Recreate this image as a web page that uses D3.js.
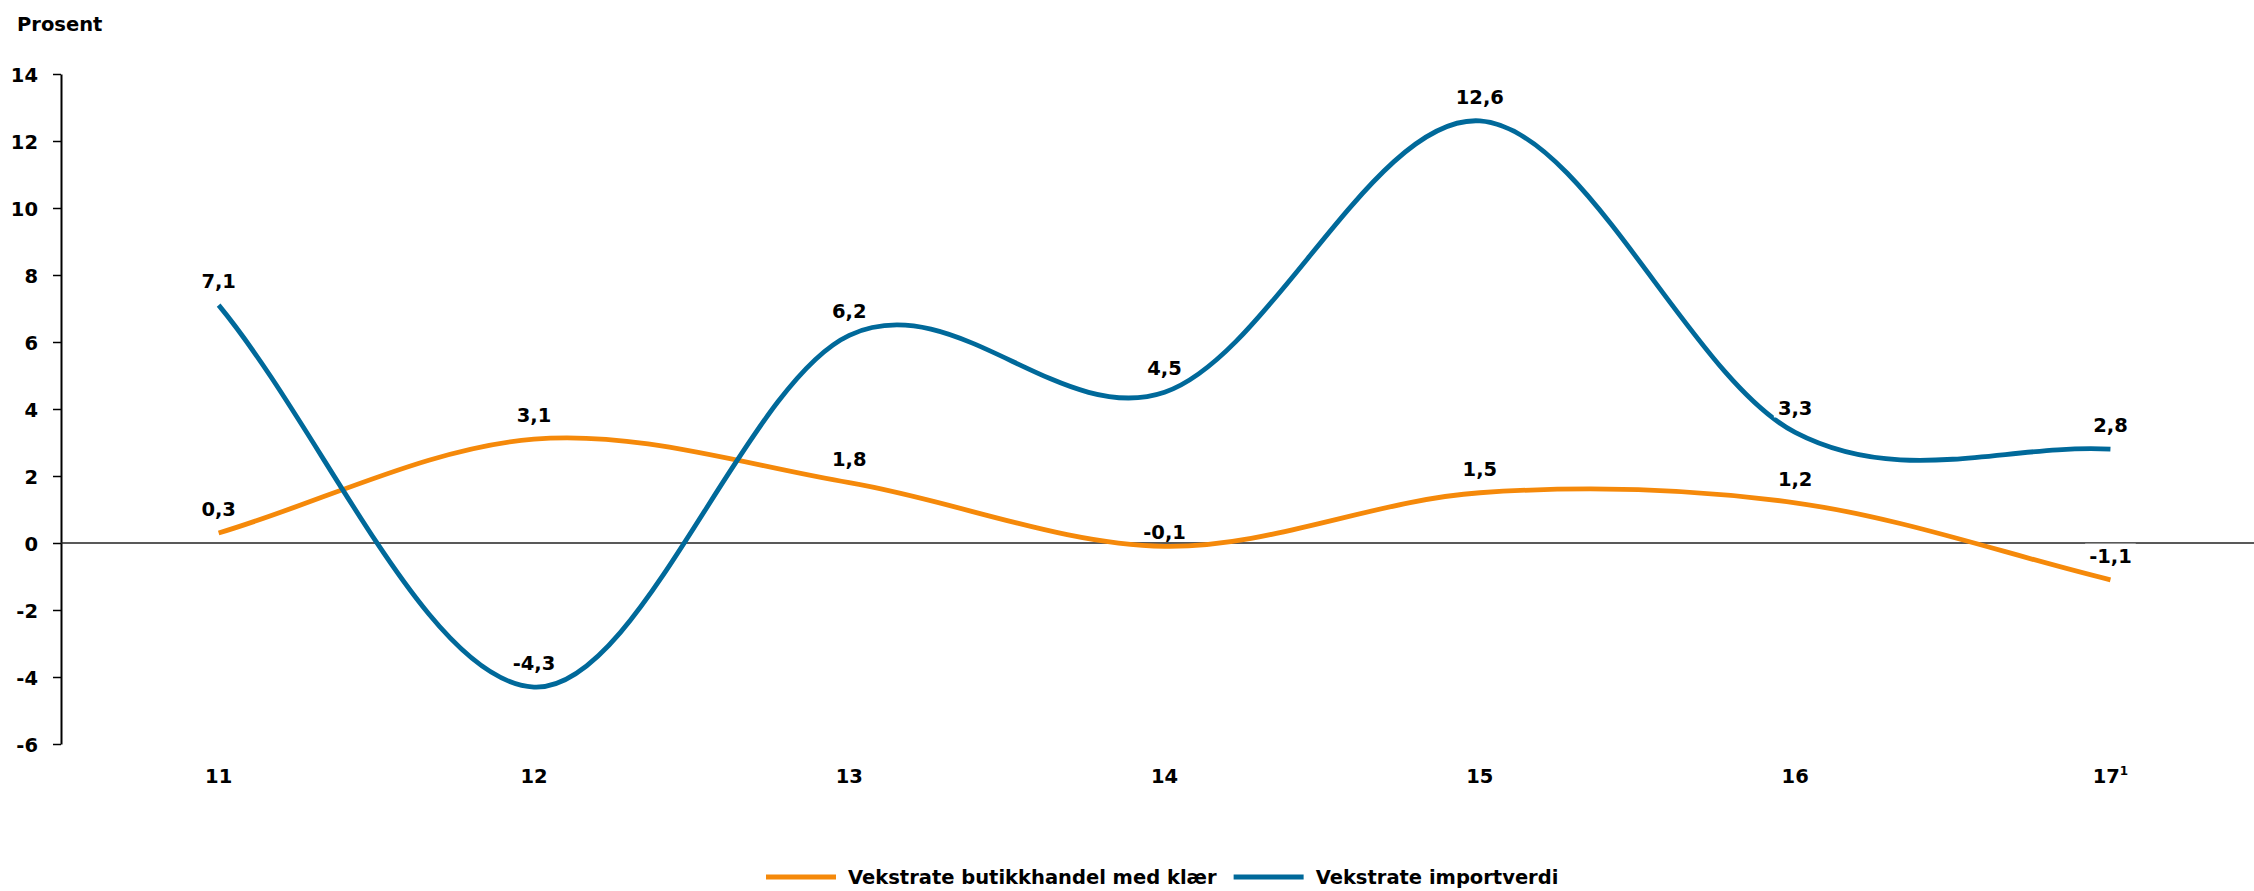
<!DOCTYPE html>
<html>
<head>
<meta charset="utf-8">
<script src="https://cdn.jsdelivr.net/npm/d3@7"></script>
<style>
  body { margin: 0; background: #fff; }
  text { font-family: "DejaVu Sans", sans-serif; font-weight: bold; fill: #000; }
</style>
</head>
<body>
<svg id="chart"></svg>
<script>
// data
const years = ["11", "12", "13", "14", "15", "16", "17"]
const klaer = [0.3, 3.1, 1.8, -0.1, 1.5, 1.2, -1.1]
const importverdi = [7.1, -4.3, 6.2, 4.5, 12.6, 3.3, 2.8]
const yTicks = [-6, -4, -2, 0, 2, 4, 6, 8, 10, 12, 14]
const seriesNames = ["Vekstrate butikkhandel med klær", "Vekstrate importverdi"]
const seriesColors = ["#f5890a", "#00699a"]

const width = 2254
const height = 891
const margin = { left: 61, top: 74, bottom: 147 }
const bandW = 315.3
const fontSize = 19.5
const capH = fontSize * 0.729

const svg = d3.select('svg#chart').attr('width', width).attr('height', height)

const x = d3.scaleBand().domain(years).range([margin.left, margin.left + bandW * years.length])
const cx = d => x(d) + x.bandwidth() / 2
const y = d3.scaleLinear().domain([-6, 14]).range([height - margin.bottom, margin.top])

// smoothing like the spreadsheet's smoothed line: catmull-rom inside, chord tangent at the ends
function CurveSmooth(context) { this._context = context }
CurveSmooth.prototype = {
  areaStart() { this._line = 0 },
  areaEnd() { this._line = NaN },
  lineStart() { this._pts = [] },
  point(px, py) { this._pts.push([+px, +py]) },
  lineEnd() {
    const p = this._pts, c = this._context, n = p.length
    if (!n) return
    c.moveTo(p[0][0], p[0][1])
    for (let i = 0; i < n - 1; i++) {
      const a = p[i - 1], b = p[i], e = p[i + 1], f = p[i + 2]
      const c1 = a ? [b[0] + (e[0] - a[0]) / 6, b[1] + (e[1] - a[1]) / 6]
                   : [b[0] + (e[0] - b[0]) / 3, b[1] + (e[1] - b[1]) / 3]
      const c2 = f ? [e[0] - (f[0] - b[0]) / 6, e[1] - (f[1] - b[1]) / 6]
                   : [e[0] - (e[0] - b[0]) / 3, e[1] - (e[1] - b[1]) / 3]
      c.bezierCurveTo(c1[0], c1[1], c2[0], c2[1], e[0], e[1])
    }
  }
}
const curveSmooth = ctx => new CurveSmooth(ctx)

// title
svg.append('text').attr('x', 17).attr('y', 31).style('font-size', fontSize + 'px').text('Prosent')

// y axis
const yAxis = svg.append('g')
  .attr('transform', 'translate(' + margin.left + ',0)')
  .call(d3.axisLeft(y).tickValues(yTicks).tickSize(8).tickSizeOuter(0).tickPadding(15).tickFormat(d => String(d)))
yAxis.select('.domain').attr('stroke', '#000').attr('stroke-width', 2)
yAxis.selectAll('.tick line').attr('stroke', '#000').attr('stroke-width', 1.5)
yAxis.selectAll('.tick text')
  .attr('font-family', null).attr('font-size', null)
  .style('font-size', fontSize + 'px').attr('dy', '0.36em')

// zero line
svg.append('line')
  .attr('x1', margin.left).attr('x2', width)
  .attr('y1', y(0)).attr('y2', y(0))
  .attr('stroke', '#222').attr('stroke-width', 1.5)

// x labels
const xl = svg.append('g').selectAll('text').data(years).enter().append('text')
  .attr('x', d => cx(d))
  .attr('y', 783)
  .attr('text-anchor', 'middle')
  .style('font-size', fontSize + 'px')
  .text(d => d)
xl.filter(d => d === "17").append('tspan')
  .attr('dy', -8).style('font-size', '12px').text('1')

// lines
const allSeries = [klaer, importverdi]
const line = d3.line().x((d, i) => cx(years[i])).y(d => y(d)).curve(curveSmooth)
svg.append('g').selectAll('path').data(allSeries).enter().append('path')
  .attr('d', d => line(d))
  .attr('fill', 'none')
  .attr('stroke', (d, i) => seriesColors[i])
  .attr('stroke-width', 4.8)
  .attr('stroke-linejoin', 'round')

// data labels with white boxes
const fmt = v => v.toFixed(1).replace('.', ',')
const labelNudge = { "0-3": 10 }   // series-index: this label sits lower in the original
const labels = []
allSeries.forEach((s, si) => s.forEach((v, i) => labels.push({ v: v, i: i, si: si })))
const lg = svg.append('g')
labels.forEach(l => {
  const base = y(l.v) - 17 + (labelNudge[l.si + '-' + l.i] || 0)
  const t = lg.append('text')
    .attr('x', cx(years[l.i]))
    .attr('y', base)
    .attr('text-anchor', 'middle')
    .style('font-size', fontSize + 'px')
    .text(fmt(l.v))
  const bb = t.node().getBBox()
  lg.insert('rect', 'text')
    .attr('x', bb.x - 4).attr('width', bb.width + 8)
    .attr('y', base - capH - 5).attr('height', capH + 7)
    .attr('fill', '#fff')
})

// legend
const legY = 877
let lx = 766
seriesNames.forEach((name, i) => {
  svg.append('line')
    .attr('x1', lx).attr('x2', lx + 70)
    .attr('y1', legY).attr('y2', legY)
    .attr('stroke', seriesColors[i]).attr('stroke-width', 5)
  const t = svg.append('text')
    .attr('x', lx + 82).attr('y', legY + capH / 2)
    .style('font-size', fontSize + 'px')
    .text(name)
  lx = lx + 82 + t.node().getComputedTextLength() + 17
})
</script>
</body>
</html>
